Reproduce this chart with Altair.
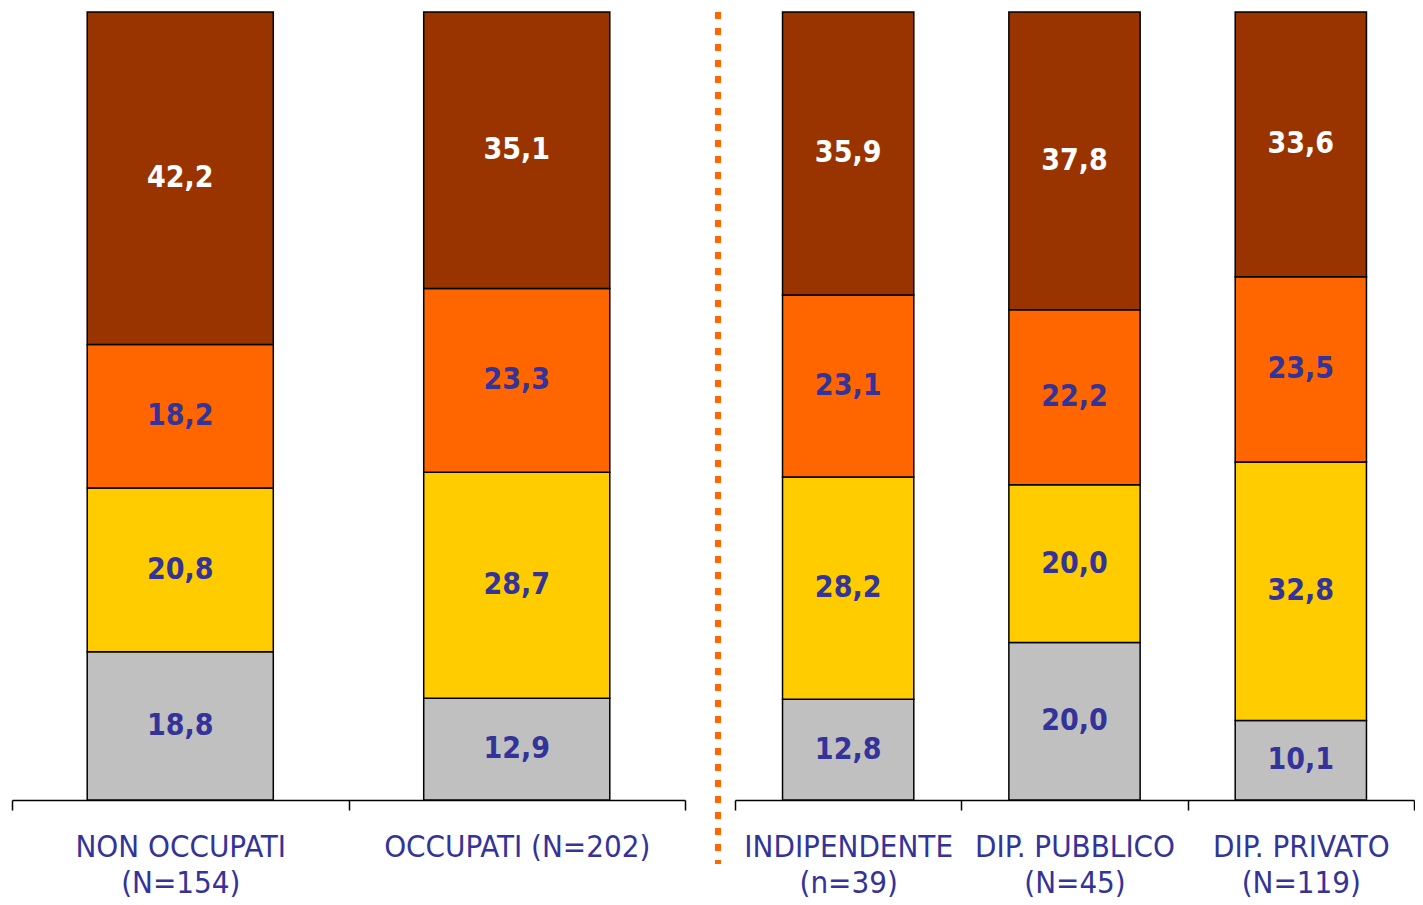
import altair as alt
import pandas as pd

# ---- data ----
left_cats = ["NON OCCUPATI\n(N=154)", "OCCUPATI (N=202)"]
right_cats = ["INDIPENDENTE\n(n=39)", "DIP. PUBBLICO\n(N=45)", "DIP. PRIVATO\n(N=119)"]
all_cats = left_cats + right_cats

series = ["Livello 1", "Livello 2", "Livello 3", "Livello 4"]
bar_colors = ["#C0C0C0", "#FFCC00", "#FF6600", "#993300"]

s_grey = [18.8, 12.9, 12.8, 20.0, 10.1]
s_yellow = [20.8, 28.7, 28.2, 20.0, 32.8]
s_orange = [18.2, 23.3, 23.1, 22.2, 23.5]
s_brown = [42.2, 35.1, 35.9, 37.8, 33.6]
series_values = [s_grey, s_yellow, s_orange, s_brown]

rows = []
for k, (name, vals) in enumerate(zip(series, series_values)):
    for cat, v in zip(all_cats, vals):
        rows.append({
            "cat": cat,
            "series": name,
            "order": k,
            "value": v,
            "label": f"{v:.1f}".replace(".", ","),
            "panel": "left" if cat in left_cats else "right",
        })
df = pd.DataFrame(rows)

LABEL_BLUE = "#333399"
PLOT_H = 788


def panel(data, cats, width, band_frac):
    base = alt.Chart(data).transform_stack(
        stack="value", groupby=["cat"], sort=[alt.SortField("order", "ascending")],
        as_=["y0", "y1"]
    ).transform_calculate(mid="(datum.y0 + datum.y1) / 2")

    x = alt.X(
        "cat:N", sort=cats, title=None,
        scale=alt.Scale(paddingInner=0, paddingOuter=0),
        axis=alt.Axis(
            labelAngle=0, tickBand="extent", labelExpr="split(datum.label, '\\n')",
            labelFont="DejaVu Sans Condensed", labelFontSize=31, labelColor=LABEL_BLUE,
            labelLineHeight=36, labelPadding=22, labelLimit=0, tickSize=10, tickWidth=1.5,
            tickColor="black", domainColor="black", domainWidth=1.5,
            labelBaseline="top",
        ),
    )
    yscale = alt.Scale(domain=[0, 100], nice=False, zero=True)
    bars = base.mark_bar(
        stroke="black", strokeWidth=1.5, width=alt.RelativeBandSize(band_frac)
    ).encode(
        x=x,
        y=alt.Y("y0:Q", scale=yscale, axis=None),
        y2="y1:Q",
        color=alt.Color("series:N", scale=alt.Scale(domain=series, range=bar_colors), legend=None),
    )
    texts = base.mark_text(
        font="DejaVu Sans Condensed", fontWeight="bold", fontSize=30, baseline="middle"
    ).encode(
        x=alt.X("cat:N", sort=cats),
        y=alt.Y("mid:Q", scale=yscale),
        text="label:N",
        color=alt.condition("datum.series == 'Livello 4'", alt.value("#FFFFFF"), alt.value(LABEL_BLUE)),
    )
    return alt.layer(bars, texts).properties(width=width, height=PLOT_H)


left = panel(df[df.panel == "left"], left_cats, 673, 0.553)
right = panel(df[df.panel == "right"], right_cats, 679, 0.58)

divider = alt.Chart(pd.DataFrame({"d": [0]})).mark_rule(
    color="#FF6600", strokeWidth=6, strokeDash=[7, 9]
).encode(
    x=alt.value(27), y=alt.value(0), y2=alt.value(852)
).properties(width=38, height=PLOT_H)

chart = alt.hconcat(left, divider, right, spacing=5).properties(
    padding={"left": 3, "top": 1, "right": 0, "bottom": 0},
    background="white",
).configure_view(strokeWidth=0, stroke=None)

chart.save("out.html", embed_options={"renderer": "svg", "actions": False})
